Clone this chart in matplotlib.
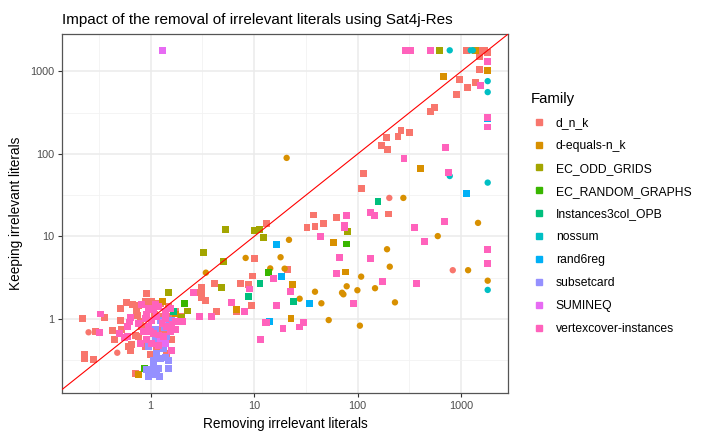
import matplotlib
matplotlib.use("Agg")
import matplotlib.pyplot as plt
import numpy as np
from matplotlib.lines import Line2D

plt.rcParams["font.family"] = ["Liberation Sans", "DejaVu Sans"]

# removing irrelevant literals (x) vs keeping them (y); "sq" = square points, "ci" = round points
d_n_k_sq_x = [1130, 1510, 1690, 1800, 1510, 1500, 961, 1156, 1372, 898, 555, 504, 262, 316, 245, 188, 168, 196,
              113, 109, 198, 37.3, 32.4, 38.7, 46.7, 61.8, 13.3, 10.0, 21.1, 9.7, 4.15, 7.41, 8.85, 3.13, 3.13,
              0.92, 3.13, 9.4, 3.38, 2.66, 6.73, 4.37, 1.96, 0.219, 0.357, 0.292, 0.427, 0.516, 0.516, 0.586,
              0.675, 0.76, 0.732, 0.754, 0.521, 0.446, 0.23, 0.232, 0.281, 0.613, 0.641, 0.66, 0.711, 0.711,
              0.889, 1.03, 1.15, 1.24, 1.49, 1.34, 1.09, 0.824, 0.766, 0.889, 0.99, 1.13, 1.34, 1.44, 1.61,
              1.55, 1.73, 1.27, 1.39, 0.795]
d_n_k_sq_y = [1800, 1800, 1780, 1675, 1513, 1063, 804, 643, 740, 519, 368, 326, 190, 181, 161, 159, 127, 114,
              57.7, 37.9, 18.7, 18.2, 12.8, 13.1, 14.5, 16.9, 14.2, 5.4, 4.0, 3.32, 2.66, 2.71, 2.6, 2.39, 2.05,
              2.05, 1.83, 1.45, 1.67, 2.11, 1.23, 1.22, 1.07, 1.02, 1.05, 0.70, 0.72, 0.97, 1.35, 1.58,
              1.48, 1.44, 1.25, 1.09, 0.75, 0.56, 0.37, 0.33, 0.32, 0.46, 0.42, 0.49, 0.63, 0.22,
              1.62, 1.62, 1.55, 1.55, 1.41, 1.07, 1.12, 0.81, 0.61, 0.46, 0.37, 0.44, 0.46, 0.38, 0.56,
              1.07, 1.23, 0.75, 0.67, 0.93]
d_n_k_ci_x = [202, 828, 0.252, 0.477, 1.15]
d_n_k_ci_y = [29.3, 3.9, 0.69, 0.39, 0.52]

d_equals_sq_x = [667, 406, 59, 76.6, 23.4, 22.7, 1.31, 0.76, 6.78, 1.73, 1380, 1800]
d_equals_sq_y = [865, 67, 8.5, 3.71, 2.63, 1.02, 1.61, 0.215, 1.31, 1.15, 1800, 1035]
d_equals_ci_x = [20.6, 276, 1452, 593, 192, 204, 1164, 147, 229, 1800, 21.7, 18.0, 14.3, 19.7, 108, 27.5,
                 38.7, 44.6, 70.6, 72.8, 78.3, 99.3, 52.5, 105, 3.42, 8.28]
d_equals_ci_y = [89.5, 29.3, 14.6, 10.1, 7.0, 4.3, 3.9, 2.36, 1.59, 2.91, 9.1, 5.6, 4.1, 4.07, 3.26, 1.76,
                 2.14, 1.55, 2.08, 1.99, 2.49, 2.23, 0.97, 0.83, 3.64, 5.49]

ec_odd_x = [620, 5.34, 10.0, 11.2, 12.4, 78.9, 3.23, 5.11, 4.89, 1.48, 2.29, 2.01]
ec_odd_y = [1800, 12.3, 11.8, 12.0, 9.8, 11.6, 6.36, 5.0, 2.42, 2.07, 1.25, 1.05]

ec_random_x = [77.8, 13.8, 2.13, 0.875]
ec_random_y = [8.1, 3.64, 1.55, 0.25]

instances_x = [157, 11.4, 24.1, 8.85, 1.67]
instances_y = [26.2, 2.66, 1.61, 1.86, 1.23]

nossum_x = [774, 1236, 1292, 1800, 1800, 774, 1800, 1800]
nossum_y = [1800, 1800, 1800, 762, 561, 54, 44.9, 2.25]

rand6reg_x = [1114, 16.4, 18.2, 34.1, 14.2, 1800]
rand6reg_y = [33, 7.9, 3.23, 1.55, 0.93, 265]

subsetcard_x = [0.92, 1.07, 1.19, 0.96, 1.11, 1.21, 1.49, 1.49, 1.07, 1.24, 1.39, 1.15, 1.34, 1.11, 1.34,
                1.44, 1.37, 1.44, 1.61, 1.24, 1.11, 0.96, 1.03, 1.15, 1.0]
subsetcard_y = [0.245, 0.26, 0.25, 0.20, 0.21, 0.20, 0.25, 0.31, 0.31, 0.33, 0.34, 0.38, 0.44, 0.56, 0.56,
                0.61, 0.79, 0.93, 0.97, 0.97, 0.74, 0.46, 0.24, 0.235, 0.21]

sumineq_x = [1.31, 1.24, 1.4, 1.3]
sumineq_y = [1800, 0.58, 0.5, 0.9]

vertex_x = [291, 325, 508, 1800, 1532, 708, 280, 757, 1800, 1800, 133, 145, 355, 689, 441, 133, 172, 366,
            1800, 1800, 78.3, 73.8, 74.5, 44.2, 67, 62.2, 15.3, 22.5, 90.8, 16.6, 12.8, 13.3, 19.0, 27.3, 30.1,
            11.6, 9.05, 8.09, 6.06, 3.88, 2.97, 2.6, 0.327, 0.321, 0.641, 0.627, 0.604, 0.499, 0.561, 0.596,
            2.05, 0.824, 0.957, 1.07, 1.19, 1.39, 1.55, 0.889, 1.03, 1.15, 1.29, 1.44, 1.61, 1.73, 0.957,
            0.856, 1.07, 1.19, 1.34, 1.55, 0.92, 1.03, 1.19, 0.795, 1.58, 0.92, 1.11, 1.39, 1.73, 0.766, 0.99]
vertex_y = [1800, 1800, 1800, 1315, 667, 121, 87.7, 60, 279, 212, 19.7, 18.1, 13.0, 15.0, 8.6, 5.4, 2.83, 2.68,
            7.0, 4.73, 17.9, 13.4, 12.9, 10.0, 5.6, 3.58, 3.11, 2.17, 1.53, 1.47, 0.91, 0.91, 0.77, 0.80, 0.90,
            0.56, 2.31, 1.23, 1.59, 1.08, 1.08, 2.08, 1.15, 0.68, 1.05, 0.92, 0.82, 0.67, 0.60, 0.61,
            0.93, 1.48, 1.35, 1.29, 1.41, 1.23, 1.35, 1.02, 0.97, 1.07, 0.89, 0.81, 0.85, 0.93, 0.81,
            0.70, 0.67, 0.64, 0.61, 0.70, 0.56, 0.51, 0.48, 0.51, 0.42, 1.12, 1.48, 1.02, 0.74, 0.89, 0.70]

families = ["d_n_k", "d-equals-n_k", "EC_ODD_GRIDS", "EC_RANDOM_GRAPHS", "Instances3col_OPB",
            "nossum", "rand6reg", "subsetcard", "SUMINEQ", "vertexcover-instances"]
colors = ["#F8766D", "#D89000", "#A3A500", "#39B600", "#00BF7D",
          "#00BFC4", "#00B0F6", "#9590FF", "#E76BF3", "#FF62BC"]

# (family, x, y, marker)
layers = [
    ("d_n_k", d_n_k_sq_x, d_n_k_sq_y, "s"),
    ("d_n_k", d_n_k_ci_x, d_n_k_ci_y, "o"),
    ("d-equals-n_k", d_equals_sq_x, d_equals_sq_y, "s"),
    ("d-equals-n_k", d_equals_ci_x, d_equals_ci_y, "o"),
    ("EC_ODD_GRIDS", ec_odd_x, ec_odd_y, "s"),
    ("EC_RANDOM_GRAPHS", ec_random_x, ec_random_y, "s"),
    ("Instances3col_OPB", instances_x, instances_y, "s"),
    ("nossum", nossum_x, nossum_y, "o"),
    ("rand6reg", rand6reg_x, rand6reg_y, "s"),
    ("subsetcard", subsetcard_x, subsetcard_y, "s"),
    ("SUMINEQ", sumineq_x, sumineq_y, "s"),
    ("vertexcover-instances", vertex_x, vertex_y, "s"),
]
color_of = dict(zip(families, colors))

fig = plt.figure(figsize=(7.02, 4.32), dpi=100)
ax = fig.add_axes([0.0883, 0.0903, 0.6353, 0.831])

all_x = np.concatenate([np.asarray(l[1], float) for l in layers])
all_y = np.concatenate([np.asarray(l[2], float) for l in layers])

for fam, xs, ys, mk in layers:
    ax.scatter(xs, ys, s=25 if mk == "s" else 21, marker=mk, color=color_of[fam],
               edgecolors="none", zorder=3)

ax.set_xscale("log")
ax.set_yscale("log")


def expand(vals):
    lo, hi = np.log10(vals.min()), np.log10(vals.max())
    pad = (hi - lo) * 0.05
    return 10 ** (lo - pad), 10 ** (hi + pad)


ax.set_xlim(*expand(all_x))
ax.set_ylim(*expand(all_y))

ax.axline((1, 1), (10, 10), color="red", lw=0.8, zorder=4)

ticks = [1, 10, 100, 1000]
minor = [10 ** -0.5, 10 ** 0.5, 10 ** 1.5, 10 ** 2.5]
for axis in (ax.xaxis, ax.yaxis):
    axis.set_major_locator(matplotlib.ticker.FixedLocator(ticks))
    axis.set_minor_locator(matplotlib.ticker.FixedLocator(minor))
    axis.set_major_formatter(matplotlib.ticker.FixedFormatter([str(t) for t in ticks]))
    axis.set_minor_formatter(matplotlib.ticker.NullFormatter())

ax.grid(True, which="major", color="#EBEBEB", lw=1.1, zorder=0)
ax.grid(True, which="minor", color="#F2F2F2", lw=0.6, zorder=0)
ax.set_axisbelow(True)
ax.tick_params(which="major", length=2.8, width=0.8, color="#333333", labelsize=7.8,
               labelcolor="#4D4D4D", pad=3)
ax.tick_params(which="minor", length=0)
for sp in ax.spines.values():
    sp.set_color("#555555")
    sp.set_linewidth(0.9)

ax.set_xlabel("Removing irrelevant literals", fontsize=9.8, labelpad=4)
ax.set_ylabel("Keeping irrelevant literals", fontsize=9.8, labelpad=5)
ax.set_title("Impact of the removal of irrelevant literals using Sat4j-Res", fontsize=11.0,
             loc="left", pad=7)

handles = [Line2D([], [], marker="s", linestyle="none", color=c, markersize=4.5) for c in colors]
leg = fig.legend(handles, families, loc="upper left", bbox_to_anchor=(0.741, 0.812),
                 frameon=False, fontsize=8.7, title="Family", title_fontsize=10.8,
                 labelspacing=0.9, handletextpad=0.75, handlelength=1.3)
leg._legend_box.align = "left"

fig.savefig("out.png", dpi=100)
